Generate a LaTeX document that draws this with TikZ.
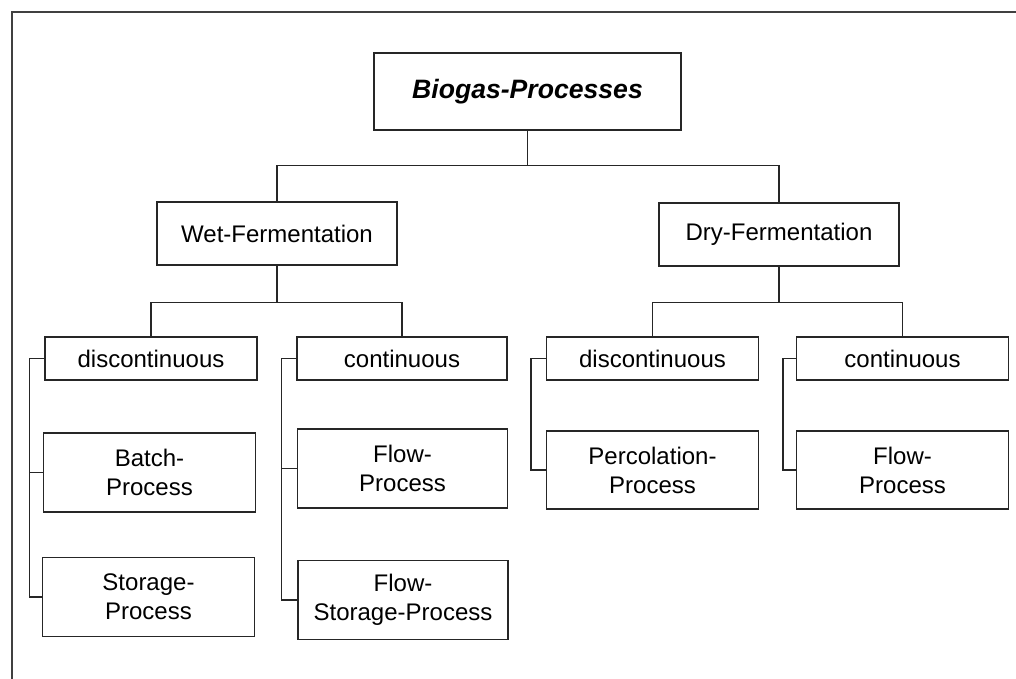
\documentclass[tikz,border=0pt]{standalone}
\usepackage{fontspec}
\setmainfont{Liberation Sans}
\usepackage{tikz}
\usetikzlibrary{positioning}
\tikzset{
  bpbox/.style={
    draw=black!85,
    line width=1.3pt,
    inner sep=0pt,
    align=center,
    minimum width=212pt,
    minimum height=43pt,
    font=\fontsize{24}{29}\selectfont
  },
  bptall/.style={bpbox,minimum height=79pt},
  bpmid/.style={bpbox,minimum width=240pt,minimum height=63pt},
  bproot/.style={bpbox,minimum width=307pt,minimum height=77pt,
    font=\fontsize{26.6}{30}\selectfont\bfseries\itshape},
  bpline/.style={draw=black!85,line width=1.3pt},
  bpframe/.style={draw=black!75,line width=1.2pt}
}
\begin{document}
\begin{tikzpicture}[x=1pt,y=-1pt]
  \useasboundingbox (0,0) rectangle (1016,679);
  \draw[bpframe] (1016,12) -| (12,679);
  % top of the tree
  \node[bproot] (bio) at (527.5,91.5) {Biogas-Processes};
  \node[bpmid] (wet) at (277,233.5) {Wet-Fermentation};
  \node[bpmid] (dry) at (779,234.5) {Dry-Fermentation};
  % wet branch
  \node[bpbox] (wdisc) at (151,358.5) {discontinuous};
  \node[bptall] (batch) at (149.5,472.5) {Batch-\\Process};
  \node[bptall] (store) at (148.5,597) {Storage-\\Process};
  \node[bpbox,minimum width=210pt] (wcont) at (402,358.5) {continuous};
  \node[bptall,minimum width=210pt] (wflow) at (402.5,468.5) {Flow-\\Process};
  \node[bptall,minimum width=210pt] (fstore) at (403,600) {Flow-\\Storage-Process};
  % dry branch
  \node[bpbox] (ddisc) at (652.5,358.5) {discontinuous};
  \node[bptall,minimum height=78pt] (perc) at (652.5,470) {Percolation-\\Process};
  \node[bpbox] (dcont) at (902.5,358.5) {continuous};
  \node[bptall,minimum height=78pt] (dflow) at (902.5,470) {Flow-\\Process};
  % connectors
  \draw[bpline] (bio.south) -- ++(0,35) -| (wet.north);
  \draw[bpline] (bio.south) -- ++(0,35) -| (dry.north);
  \draw[bpline] (wet.south) -- ++(0,37) -| (wdisc.north);
  \draw[bpline] (wet.south) -- ++(0,37) -| (wcont.north);
  \draw[bpline] (dry.south) -- ++(0,36) -| (ddisc.north);
  \draw[bpline] (dry.south) -- ++(0,36) -| (dcont.north);
  \draw[bpline] (wdisc.west) -- ++(-15,0) |- (batch.west);
  \draw[bpline] (wdisc.west) -- ++(-15,0) |- (store.west);
  \draw[bpline] (wcont.west) -- ++(-15,0) |- (wflow.west);
  \draw[bpline] (wcont.west) -- ++(-15,0) |- (fstore.west);
  \draw[bpline] (ddisc.west) -- ++(-15,0) |- (perc.west);
  \draw[bpline] (dcont.west) -- ++(-13,0) |- (dflow.west);
\end{tikzpicture}
\end{document}
